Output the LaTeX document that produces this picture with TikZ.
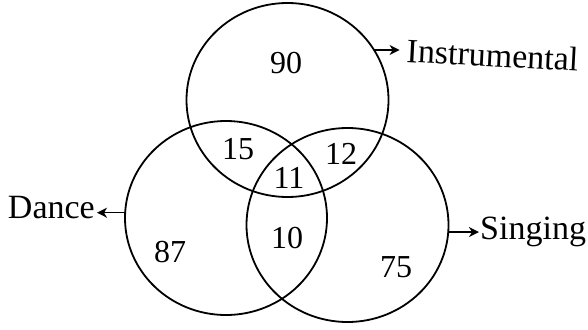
\documentclass[tikz,border=0pt]{standalone}
\usepackage{fontspec}
\setmainfont{Liberation Serif}
\usetikzlibrary{shapes.geometric,arrows.meta}
\begin{document}
\begin{tikzpicture}[x=1pt,y=-1pt,
  setc/.style={draw,ellipse,line width=1.8pt,minimum width=202pt,minimum height=194pt,inner sep=0pt,outer sep=0pt},
  num/.style={font=\fontsize{32}{36}\selectfont,inner sep=0pt},
  lbl/.style={font=\fontsize{34}{40}\selectfont,inner sep=0pt},
  arr/.style={line width=1.5pt,-{Stealth[length=10pt,width=10pt,inset=3pt]}}]
\useasboundingbox[fill=white] (0,0) rectangle (588,329);
\node[setc] (T) at (287.5,100) {};
\node[setc] (L) at (226,218) {};
\node[setc] (R) at (347.5,225) {};
\node[num] (n90) at (286,63) {90};
\node[num] (n15) at (238,149) {15};
\node[num] (n12) at (341,154) {12};
\node[num] (n11) at (289,178) {11};
\node[num] (n10) at (287,238) {10};
\node[num] (n87) at (170,252) {87};
\node[num] (n75) at (396,267) {75};
\node[lbl,anchor=base west,rotate=-3] (instr) at (406,62) {Instrumental};
\node[lbl,anchor=base east] (dance) at (95,218) {Dance};
\node[lbl,anchor=base west] (sing) at (480,239) {Singing};
\draw[arr,shorten >=7pt] (T.30) -- (T.30 -| instr.west);
\draw[arr,shorten >=2pt] (L.177) -- (L.177 -| dance.east);
\draw[arr,shorten >=1pt] (R.-4) -- (R.-4 -| sing.west);
\end{tikzpicture}
\end{document}
